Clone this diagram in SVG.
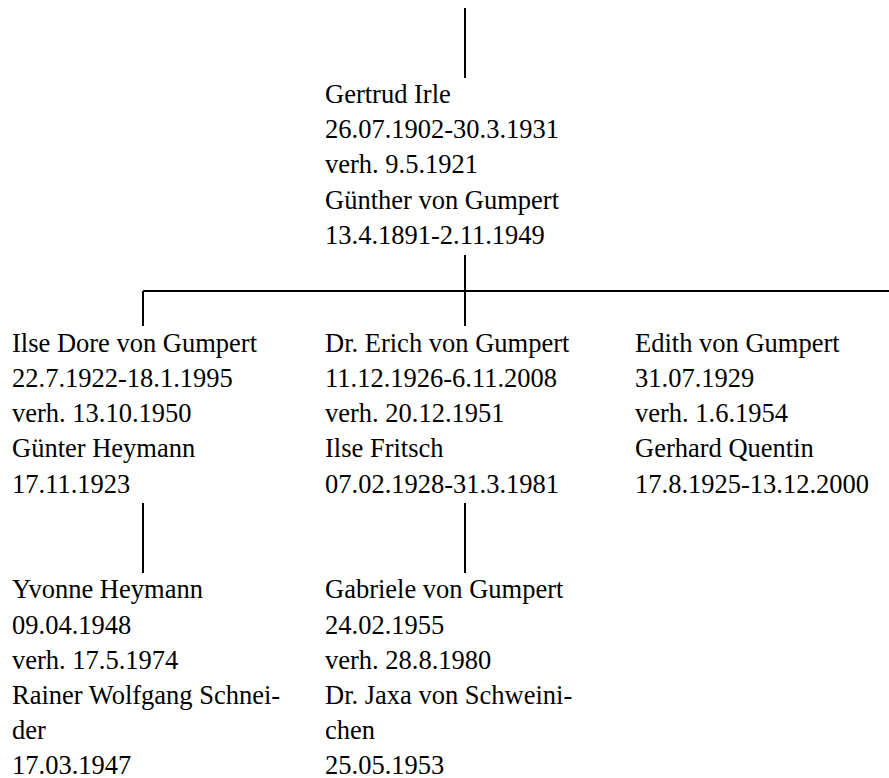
<svg xmlns="http://www.w3.org/2000/svg" width="889" height="778" viewBox="0 0 889 778">
<style>
text{font-family:"Liberation Serif","Times New Roman",Tinos,Times,serif;font-size:26.5px;fill:#000}
.c{stroke:#000;stroke-width:2;fill:none}
</style>
<rect width="889" height="778" fill="#fff"/>
<g id="connectors">
<path class="c" d="M465 8V78"/>
<path class="c" d="M465 255V326"/>
<path class="c" d="M143 291H889"/>
<path class="c" d="M143 291V326"/>
<path class="c" d="M143 503V573"/>
<path class="c" d="M465 503V573"/>
</g>
<g id="gertrud" font-family="Liberation Serif, serif">
<text x="325" y="103">Gertrud Irle</text>
<text x="325" y="138.2">26.07.1902-30.3.1931</text>
<text x="325" y="173.4">verh. 9.5.1921</text>
<text x="325" y="208.6">Günther von Gumpert</text>
<text x="325" y="243.8">13.4.1891-2.11.1949</text>
</g>
<g id="ilse" font-family="Liberation Serif, serif">
<text x="12" y="351.7">Ilse Dore von Gumpert</text>
<text x="12" y="386.9">22.7.1922-18.1.1995</text>
<text x="12" y="422.1">verh. 13.10.1950</text>
<text x="12" y="457.3">Günter Heymann</text>
<text x="12" y="492.5">17.11.1923</text>
</g>
<g id="erich" font-family="Liberation Serif, serif">
<text x="325" y="351.7">Dr. Erich von Gumpert</text>
<text x="325" y="386.9">11.12.1926-6.11.2008</text>
<text x="325" y="422.1">verh. 20.12.1951</text>
<text x="325" y="457.3">Ilse Fritsch</text>
<text x="325" y="492.5">07.02.1928-31.3.1981</text>
</g>
<g id="edith" font-family="Liberation Serif, serif">
<text x="635" y="351.7">Edith von Gumpert</text>
<text x="635" y="386.9">31.07.1929</text>
<text x="635" y="422.1">verh. 1.6.1954</text>
<text x="635" y="457.3">Gerhard Quentin</text>
<text x="635" y="492.5">17.8.1925-13.12.2000</text>
</g>
<g id="yvonne" font-family="Liberation Serif, serif">
<text x="12" y="598.3">Yvonne Heymann</text>
<text x="12" y="633.5">09.04.1948</text>
<text x="12" y="668.7">verh. 17.5.1974</text>
<text x="12" y="703.9">Rainer Wolfgang Schnei-</text>
<text x="12" y="739.1">der</text>
<text x="12" y="774.3">17.03.1947</text>
</g>
<g id="gabriele" font-family="Liberation Serif, serif">
<text x="325" y="598.3">Gabriele von Gumpert</text>
<text x="325" y="633.5">24.02.1955</text>
<text x="325" y="668.7">verh. 28.8.1980</text>
<text x="325" y="703.9">Dr. Jaxa von Schweini-</text>
<text x="325" y="739.1">chen</text>
<text x="325" y="774.3">25.05.1953</text>
</g>
</svg>
